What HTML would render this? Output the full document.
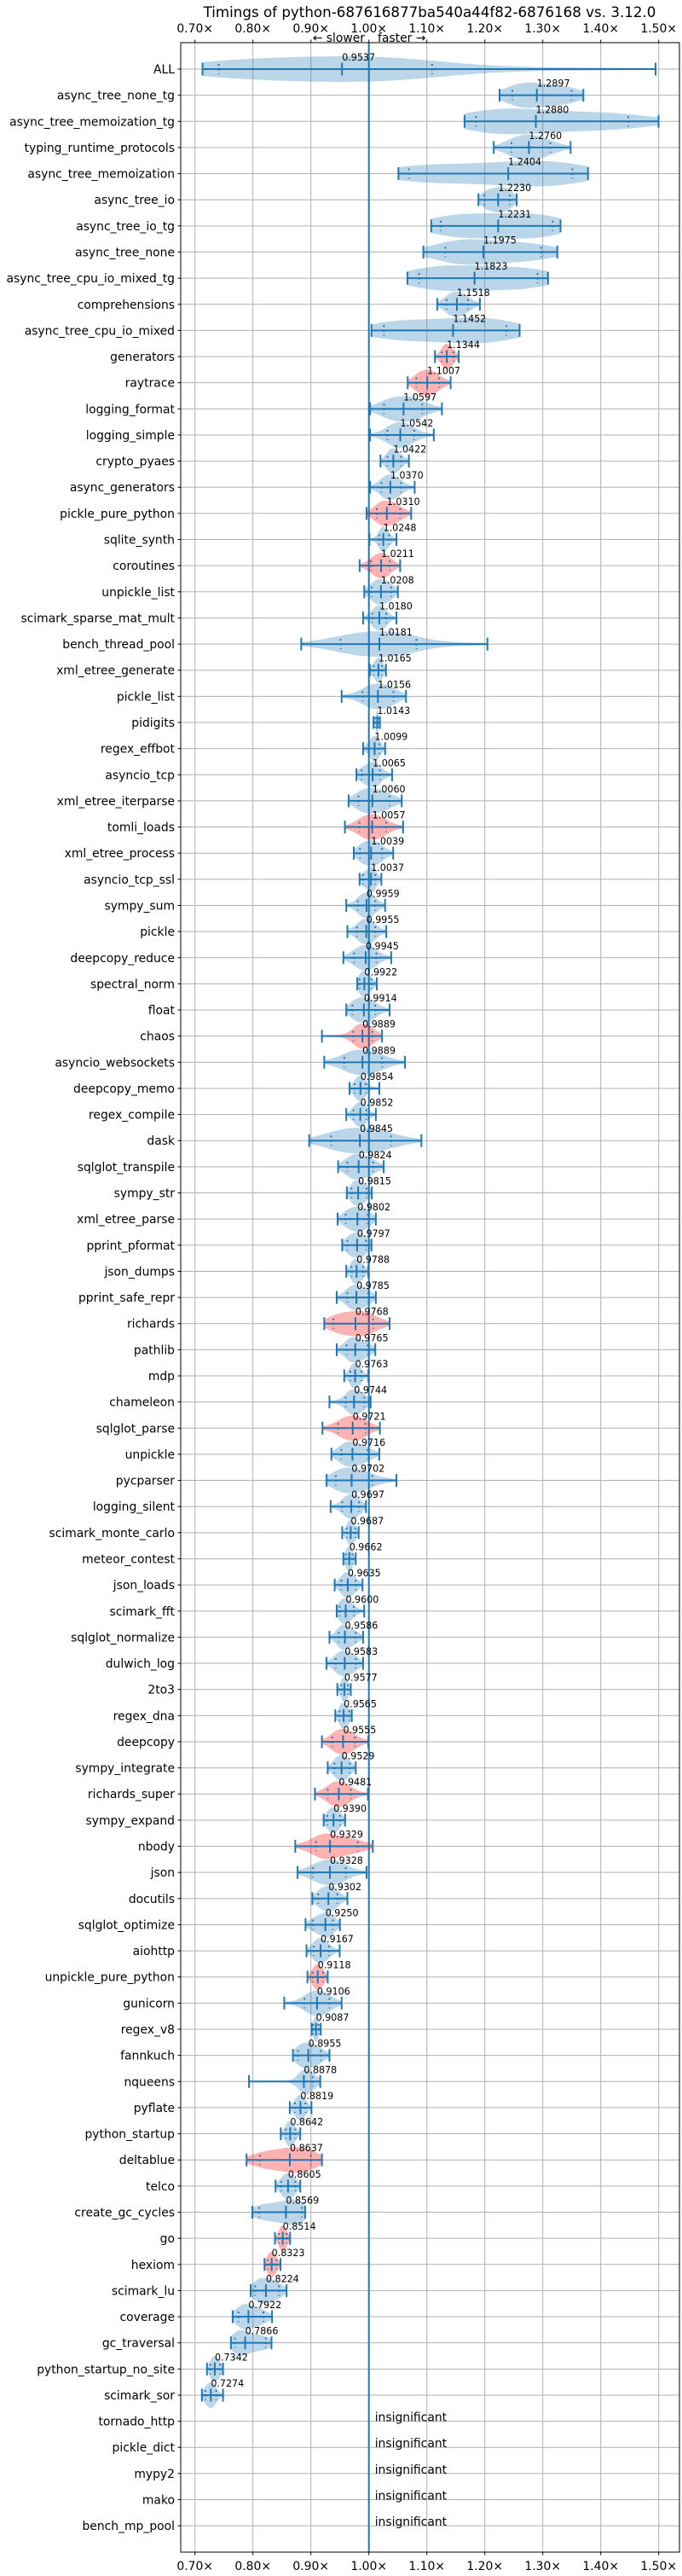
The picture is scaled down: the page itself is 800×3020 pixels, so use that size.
<!DOCTYPE html>
<html><head><meta charset="utf-8"><style>
html,body{margin:0;padding:0;background:#fff;}
svg{display:block;font-family:"DejaVu Sans","Liberation Sans",sans-serif;}
</style></head><body>
<svg id="chart" width="800" height="3020" viewBox="0 0 800 3020" xmlns="http://www.w3.org/2000/svg">
<text x="504" y="20" font-size="16.7" text-anchor="middle">Timings of python-687616877ba540a44f82-6876168 vs. 3.12.0</text>
<g id="grid"></g>
<g id="marks"></g>
<g id="axes"></g>
<text x="428" y="49" font-size="13.9" text-anchor="end">← slower</text>
<text x="443" y="49" font-size="13.9">faster →</text>
</svg>
<script>
const benchmarks = ["ALL","async_tree_none_tg","async_tree_memoization_tg","typing_runtime_protocols","async_tree_memoization","async_tree_io","async_tree_io_tg","async_tree_none","async_tree_cpu_io_mixed_tg","comprehensions","async_tree_cpu_io_mixed","generators","raytrace","logging_format","logging_simple","crypto_pyaes","async_generators","pickle_pure_python","sqlite_synth","coroutines","unpickle_list","scimark_sparse_mat_mult","bench_thread_pool","xml_etree_generate","pickle_list","pidigits","regex_effbot","asyncio_tcp","xml_etree_iterparse","tomli_loads","xml_etree_process","asyncio_tcp_ssl","sympy_sum","pickle","deepcopy_reduce","spectral_norm","float","chaos","asyncio_websockets","deepcopy_memo","regex_compile","dask","sqlglot_transpile","sympy_str","xml_etree_parse","pprint_pformat","json_dumps","pprint_safe_repr","richards","pathlib","mdp","chameleon","sqlglot_parse","unpickle","pycparser","logging_silent","scimark_monte_carlo","meteor_contest","json_loads","scimark_fft","sqlglot_normalize","dulwich_log","2to3","regex_dna","deepcopy","sympy_integrate","richards_super","sympy_expand","nbody","json","docutils","sqlglot_optimize","aiohttp","unpickle_pure_python","gunicorn","regex_v8","fannkuch","nqueens","pyflate","python_startup","deltablue","telco","create_gc_cycles","go","hexiom","scimark_lu","coverage","gc_traversal","python_startup_no_site","scimark_sor"];
const medians = [0.9537,1.2897,1.2880,1.2760,1.2404,1.2230,1.2231,1.1975,1.1823,1.1518,1.1452,1.1344,1.1007,1.0597,1.0542,1.0422,1.0370,1.0310,1.0248,1.0211,1.0208,1.0180,1.0181,1.0165,1.0156,1.0143,1.0099,1.0065,1.0060,1.0057,1.0039,1.0037,0.9959,0.9955,0.9945,0.9922,0.9914,0.9889,0.9889,0.9854,0.9852,0.9845,0.9824,0.9815,0.9802,0.9797,0.9788,0.9785,0.9768,0.9765,0.9763,0.9744,0.9721,0.9716,0.9702,0.9697,0.9687,0.9662,0.9635,0.9600,0.9586,0.9583,0.9577,0.9565,0.9555,0.9529,0.9481,0.9390,0.9329,0.9328,0.9302,0.9250,0.9167,0.9118,0.9106,0.9087,0.8955,0.8878,0.8819,0.8642,0.8637,0.8605,0.8569,0.8514,0.8323,0.8224,0.7922,0.7866,0.7342,0.7274];
const mins = [0.713,1.2254,1.165,1.2154,1.051,1.189,1.1075,1.094,1.0665,1.118,1.0045,1.114,1.067,1.002,1.002,1.020,1.002,0.996,1.001,0.984,0.992,0.990,0.8833,1.0017,0.953,1.008,0.990,0.9785,0.965,0.9586,0.974,0.984,0.961,0.963,0.956,0.980,0.961,0.919,0.923,0.9666,0.961,0.897,0.947,0.962,0.946,0.954,0.961,0.9445,0.923,0.9445,0.9575,0.932,0.920,0.9354,0.927,0.934,0.954,0.956,0.941,0.9445,0.932,0.927,0.9456,0.942,0.919,0.929,0.907,0.922,0.873,0.877,0.9025,0.8907,0.8924,0.894,0.854,0.9014,0.869,0.7932,0.8635,0.848,0.789,0.839,0.799,0.838,0.820,0.796,0.765,0.762,0.7207,0.712];
const maxs = [1.4946,1.370,1.4997,1.348,1.378,1.255,1.3306,1.325,1.309,1.1915,1.260,1.155,1.141,1.126,1.112,1.069,1.079,1.073,1.0476,1.054,1.050,1.0476,1.2045,1.0295,1.064,1.019,1.028,1.040,1.0567,1.059,1.042,1.0215,1.028,1.030,1.0385,1.0136,1.0357,1.0227,1.0623,1.018,1.012,1.0906,1.0255,1.005,1.012,1.0045,0.999,1.012,1.0357,1.011,0.999,1.003,1.019,1.018,1.0476,0.995,0.9824,0.9773,0.989,0.992,0.990,0.990,0.9688,0.9705,0.999,0.9773,0.9983,0.959,1.0068,0.996,0.963,0.950,0.9496,0.929,0.953,0.917,0.932,0.9161,0.901,0.8816,0.919,0.8816,0.890,0.864,0.8476,0.858,0.833,0.832,0.7484,0.7484];
const q1s = [0.741,1.2475,1.185,1.246,1.069,1.199,1.124,1.132,1.0867,1.134,1.026,1.126,1.082,1.026,1.032,1.032,1.0215,1.0136,1.018,1.0034,1.005,1.006,0.951,1.008,0.989,1.011,1.000,0.9875,0.982,0.9836,0.9847,0.990,0.981,0.9796,0.9745,0.984,0.9717,0.973,0.9575,0.9756,0.9734,0.935,0.963,0.970,0.960,0.963,0.970,0.963,0.939,0.9615,0.968,0.960,0.947,0.9524,0.943,0.954,0.962,0.960,0.9524,0.9496,0.948,0.943,0.9524,0.9496,0.937,0.9405,0.929,0.928,0.909,0.9037,0.9127,0.9037,0.905,0.903,0.889,0.904,0.8776,0.888,0.8725,0.8567,0.812,0.849,0.811,0.845,0.8255,0.804,0.775,0.769,0.727,0.7178];
const q3s = [1.109,1.3495,1.4475,1.313,1.351,1.243,1.317,1.297,1.291,1.171,1.237,1.146,1.121,1.092,1.078,1.0555,1.0555,1.054,1.035,1.036,1.0385,1.030,1.082,1.0227,1.0425,1.016,1.018,1.019,1.0357,1.030,1.0227,1.011,1.011,1.011,1.013,1.0045,1.011,1.0057,1.0227,0.995,0.9955,1.038,1.0074,0.996,0.998,0.995,0.990,0.999,1.0074,0.998,0.987,0.992,0.994,0.998,1.0057,0.983,0.9768,0.9717,0.9773,0.974,0.9773,0.9773,0.964,0.966,0.976,0.9666,0.969,0.950,0.981,0.960,0.9456,0.9377,0.9314,0.921,0.932,0.913,0.917,0.903,0.8907,0.873,0.900,0.873,0.8844,0.858,0.841,0.845,0.818,0.822,0.7434,0.7365];
const slowerRed = ["generators","raytrace","pickle_pure_python","coroutines","tomli_loads","chaos","richards","sqlglot_parse","deepcopy","richards_super","nbody","unpickle_pure_python","deltablue","go","hexiom"];
const insignificant = ["tornado_http","pickle_dict","mypy2","mako","bench_mp_pool"];
const xTicks = [0.7,0.8,0.9,1.0,1.1,1.2,1.3,1.4,1.5];
const xTickLabels = ["0.70×","0.80×","0.90×","1.00×","1.10×","1.20×","1.30×","1.40×","1.50×"];

const NS = "http://www.w3.org/2000/svg";
const L = 212, R = 797, T = 50, B = 2992;
const X0 = 432.7, XS = 680;
const Y0 = 81, YS = 30.64;
const BLUE = "#1f77b4";
function x(v){ return X0 + (v - 1) * XS; }
function y(i){ return Y0 + i * YS; }
function mk(tag, attrs, parent){
  const e = document.createElementNS(NS, tag);
  for (const k in attrs) e.setAttribute(k, attrs[k]);
  parent.appendChild(e);
  return e;
}
const grid = document.getElementById('grid');
const marks = document.getElementById('marks');
const axes = document.getElementById('axes');
const allNames = benchmarks.concat(insignificant);

xTicks.forEach((t, k) => {
  const g = mk('line', {x1:x(t), x2:x(t), y1:T, y2:B, stroke:'#b0b0b0', 'stroke-width':1}, grid);
  
  
  const tt = mk('line', {x1:x(t), x2:x(t), y1:T-3.5, y2:T, stroke:'#000', 'stroke-width':1}, axes);
  
  
  const tb = mk('line', {x1:x(t), x2:x(t), y1:B, y2:B+3.5, stroke:'#000', 'stroke-width':1}, axes);
  
  
  const lt = mk('text', {x:x(t), y:38, 'font-size':13.9, 'text-anchor':'middle'}, axes);
  lt.textContent = xTickLabels[k];
  
  
  const lb = mk('text', {x:x(t), y:3013, 'font-size':13.9, 'text-anchor':'middle'}, axes);
  lb.textContent = xTickLabels[k];
  
  
});
allNames.forEach((n, i) => {
  const g = mk('line', {x1:L, x2:R, y1:y(i), y2:y(i), stroke:'#b0b0b0', 'stroke-width':1}, grid);
  
  
  const tk = mk('line', {x1:L-3.5, x2:L, y1:y(i), y2:y(i), stroke:'#000', 'stroke-width':1}, axes);
  
  
  const lb = mk('text', {x:L-7, y:y(i)+5, 'font-size':13.9, 'text-anchor':'end'}, axes);
  lb.textContent = n;
  
  
});
const frame = mk('rect', {x:L, y:T, width:R-L, height:B-T, fill:'none', stroke:'#000', 'stroke-width':1}, axes);



const ref = mk('line', {x1:x(1), x2:x(1), y1:T, y2:B, stroke:BLUE, 'stroke-width':2}, marks);



function inv(p, mn, a, md, b, mx){
  const ps=[0,0.1,0.5,0.9,1], vs=[mn,a,md,b,mx];
  for (let k=0;k<4;k++){ if (p<=ps[k+1]){ const f=(p-ps[k])/(ps[k+1]-ps[k]); return vs[k]+f*(vs[k+1]-vs[k]); } }
  return mx;
}
function violin(i){
  const mn=mins[i], mx=maxs[i], a=q1s[i], b=q3s[i], md=medians[i];
  const N=41, s=[];
  for (let k=0;k<N;k++) s.push(inv((k+0.5)/N, mn, a, md, b, mx));
  const mean=s.reduce((p,c)=>p+c,0)/N;
  const sd=Math.sqrt(s.reduce((p,c)=>p+(c-mean)*(c-mean),0)/N) || 0.001;
  const bw=1.25*sd*Math.pow(N,-0.2);
  const M=60, pts=[];
  let maxd=0;
  for (let k=0;k<=M;k++){
    const v=mn+(mx-mn)*k/M;
    let d=0; for (const q of s){ const z=(v-q)/bw; d+=Math.exp(-0.5*z*z); }
    pts.push([v,d]); if (d>maxd) maxd=d;
  }
  const H=15, yc=y(i);
  let top='', bot='';
  pts.forEach((p,k)=>{ const w=p[1]/maxd*H; top+=(k?'L':'M')+x(p[0]).toFixed(1)+','+(yc-w).toFixed(1); });
  for (let k=pts.length-1;k>=0;k--){ const w=pts[k][1]/maxd*H; bot+='L'+x(pts[k][0]).toFixed(1)+','+(yc+w).toFixed(1); }
  return top+bot+'Z';
}

benchmarks.forEach((n, i) => {
  const g = mk('g', {}, marks);
  
  
  const red = slowerRed.indexOf(n) >= 0;
  const body = mk('path', {d:violin(i), fill: red ? '#ff0000' : BLUE, 'fill-opacity':0.3, stroke:'none'}, g);
  
  
  const yc = y(i);
  const ln = mk('line', {x1:x(mins[i]), x2:x(maxs[i]), y1:yc, y2:yc, stroke:BLUE, 'stroke-width':2}, g);
  
  
  [mins[i], maxs[i], medians[i]].forEach(v => {
    const c = mk('line', {x1:x(v), x2:x(v), y1:yc-7.5, y2:yc+7.5, stroke:BLUE, 'stroke-width':2}, g);
    
    
  });
  [q1s[i], q3s[i]].forEach(v => {
    const c = mk('line', {x1:x(v), x2:x(v), y1:yc-6, y2:yc+6, stroke:BLUE, 'stroke-width':2, 'stroke-dasharray':'2,3.5'}, g);
    
    
  });
  const t = mk('text', {x:x(medians[i]), y:yc-10, 'font-size':11.1}, g);
  t.textContent = medians[i].toFixed(4);
  
  
});
insignificant.forEach((n, k) => {
  const i = benchmarks.length + k, yc = y(i);
  const t = mk('text', {x:x(1)+7, y:yc, 'font-size':13.9}, marks);
  t.textContent = 'insignificant';
  
  
});
</script>
</body></html>
